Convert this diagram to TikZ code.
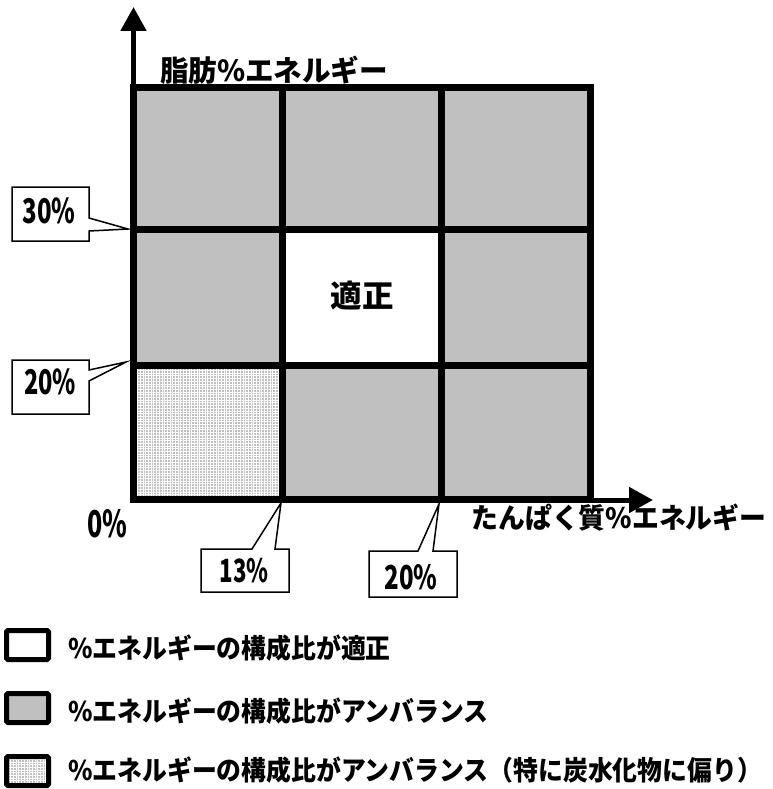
\documentclass[tikz,border=0pt]{standalone}
\usepackage{fontspec}
\usepackage{graphicx}
\newfontfamily\jp{Noto Sans CJK JP}
\usetikzlibrary{arrows.meta,patterns.meta}
\definecolor{cellgray}{HTML}{C0C0C0}
\begin{document}
\begin{tikzpicture}[x=1pt,y=-1pt,
  gridline/.style={line width=7pt, draw=black},
  dotfill/.style={fill=cellgray, postaction={pattern={Hatch[distance=2.7pt,line width=0.9pt]}, pattern color=white}},
  axisarrow/.style={line width=5pt, draw=black, -{Triangle[length=24pt,width=25pt]}},
  callout/.style={draw=black, fill=white, line width=1.5pt, line join=miter},
  lab/.style={inner sep=0pt, font=\jp\bfseries},
  legbox/.style={draw=black, line width=5pt, rounded corners=1.5pt},
  legtext/.style={inner sep=0pt, anchor=west, font=\jp\bfseries\fontsize{27}{29}\selectfont}
]
\useasboundingbox (0,0) rectangle (772,789);

% cells
\fill[cellgray] (133,88) rectangle (590,499);
\fill[white] (282,229) rectangle (441,365);
\path[dotfill] (133,365) rectangle (282,499);

% grid lines
\draw[gridline] (133,88) rectangle (590,499);
\draw[gridline] (282,88) -- (282,499);
\draw[gridline] (441,88) -- (441,499);
\draw[gridline] (133,229) -- (590,229);
\draw[gridline] (133,365) -- (590,365);

% axes
\coordinate (ybase) at (133.5,91);
\coordinate (ytip) at (133.5,7);
\coordinate (xbase) at (588,500);
\coordinate (xtip) at (653,500);
\draw[axisarrow] (ybase) -- (ytip);
\draw[axisarrow] (xbase) -- (xtip);

% callouts
\draw[callout] (12,187) -- (89,187) -- (89,218) -- (128,229) -- (89,231) -- (89,241) -- (12,241) -- cycle;
\draw[callout] (12,360) -- (89,360) -- (89,370) -- (126,362) -- (89,381) -- (89,414) -- (12,414) -- cycle;
\draw[callout] (201,549) -- (252,549) -- (281,503) -- (275,549) -- (289,549) -- (289,592) -- (201,592) -- cycle;
\draw[callout] (369,551) -- (418,551) -- (439,504) -- (433,551) -- (457,551) -- (457,597) -- (369,597) -- cycle;

% labels
\node[lab] (ylab) at (274,70) {\resizebox{228pt}{\height}{\fontsize{29}{30}\selectfont 脂肪\%エネルギー}};
\node[lab] (xlab) at (619,518) {\resizebox{295pt}{\height}{\fontsize{28}{30}\selectfont たんぱく質\%エネルギー}};
\node[lab] (ok) at (362,296) {\resizebox{63pt}{\height}{\fontsize{31}{33}\selectfont 適正}};
\node[lab] (p30) at (49,211) {\resizebox{53pt}{\height}{\fontsize{34}{36}\selectfont 30\%}};
\node[lab] (p20l) at (50,382) {\resizebox{52pt}{\height}{\fontsize{34}{36}\selectfont 20\%}};
\node[lab] (p13) at (244,571) {\resizebox{49pt}{\height}{\fontsize{32}{34}\selectfont 13\%}};
\node[lab] (p20b) at (411,577) {\resizebox{53pt}{\height}{\fontsize{33}{35}\selectfont 20\%}};
\node[lab] (p0) at (107,524) {\resizebox{40pt}{\height}{\fontsize{37}{39}\selectfont 0\%}};

% legend
\draw[legbox, fill=white] (6.5,630.5) rectangle (48.5,659.5);
\draw[legbox, fill=cellgray] (6.5,693.5) rectangle (48.5,722.5);
\path[dotfill] (6.5,756.5) rectangle (48.5,785.5);
\draw[legbox] (6.5,756.5) rectangle (48.5,785.5);
\node[legtext] (leg1) at (68,648) {\scalebox{0.92}[1]{\%エネルギーの構成比が適正}};
\node[legtext] (leg2) at (68,711) {\scalebox{0.92}[1]{\%エネルギーの構成比がアンバランス}};
\node[legtext] (leg3) at (68,770) {\scalebox{0.92}[1]{\%エネルギーの構成比がアンバランス（特に炭水化物に偏り）}};
\end{tikzpicture}
\end{document}
